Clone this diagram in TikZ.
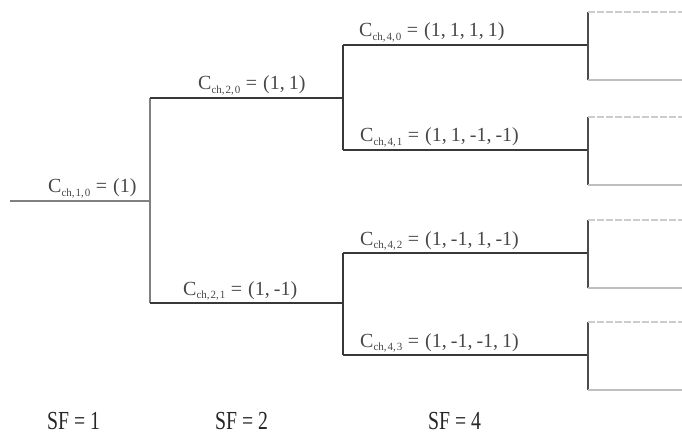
\documentclass[tikz,border=0pt]{standalone}
\usepackage{fontspec}
\setmainfont{Liberation Serif}
% spaced comma inside the code tuples
\newcommand{\tupsep}{,\hspace{4pt}}
% channelisation code label: C_{ch,SF,k} = tuple
\newcommand{\chcode}[3]{C\textsubscript{\fontsize{11}{11}\selectfont ch,\hspace{1pt}#1,\hspace{1pt}#2}\hspace{5pt}=\hspace{6pt}#3}
% tall, narrow lettering of the column captions
\newcommand{\sfcap}[1]{\scalebox{0.76}[1]{SF = #1}}
\begin{document}
\begin{tikzpicture}[x=1pt,y=-1pt,
  stem/.style={draw=black!50, line width=2.6pt},
  branch/.style={draw=black!78, line width=1.7pt},
  leafedge/.style={draw=black!70, line width=1.7pt},
  faint/.style={draw=black!25, line width=1.5pt},
  faintdash/.style={draw=black!20, line width=1.5pt, dash pattern=on 7pt off 2pt},
  code/.style={font=\fontsize{20}{20}\selectfont, anchor=south west, inner sep=1pt, text=black!72},
  sflabel/.style={font=\fontsize{26}{26}\selectfont, anchor=west, inner sep=0pt, text=black!85}]
\useasboundingbox (0,0) rectangle (682,436);

% junction points of the code tree
\coordinate (in)  at (10,201);
\coordinate (n1)  at (150,201);
\coordinate (u1)  at (150,98);
\coordinate (d1)  at (150,303);
\coordinate (n2u) at (343,98);
\coordinate (n2d) at (343,303);
\coordinate (u2a) at (343,45);
\coordinate (u2b) at (343,150);
\coordinate (d2a) at (343,253);
\coordinate (d2b) at (343,355);
\coordinate (l0)  at (588,45);
\coordinate (l1)  at (588,150);
\coordinate (l2)  at (588,253);
\coordinate (l3)  at (588,355);

% SF = 1 stem and split into SF = 2
\draw[stem] (in) -- (n1);
\draw[stem] (u1) -- (d1);

% SF = 2 branches
\draw[branch] (u1) -- (n2u);
\draw[branch] (d1) -- (n2d);
\draw[branch] (u2a) -- (u2b);
\draw[branch] (d2a) -- (d2b);

% SF = 4 branches
\draw[branch] (u2a) -- (l0);
\draw[branch] (u2b) -- (l1);
\draw[branch] (d2a) -- (l2);
\draw[branch] (d2b) -- (l3);

% continuation towards SF = 8 (y axis points down)
\foreach \l in {l0,l1,l2,l3}{
  \coordinate (\l t) at ([yshift=33pt]\l);
  \coordinate (\l b) at ([yshift=-35pt]\l);
  \draw[leafedge] (\l t) -- (\l b);
  \draw[faintdash] (\l t) -- (\l t -| 682,0);
  \draw[faint] (\l b) -- (\l b -| 682,0);
}

% code labels
\node[code] (c10) at (47,199)  {\chcode{1}{0}{(1)}};
\node[code] (c20) at (197,96)  {\chcode{2}{0}{(1\tupsep 1)}};
\node[code] (c21) at (182,301) {\chcode{2}{1}{(1\tupsep -1)}};
\node[code] (c40) at (358,43)  {\chcode{4}{0}{(1\tupsep 1\tupsep 1\tupsep 1)}};
\node[code] (c41) at (359,148) {\chcode{4}{1}{(1\tupsep 1\tupsep -1\tupsep -1)}};
\node[code] (c42) at (359,251) {\chcode{4}{2}{(1\tupsep -1\tupsep 1\tupsep -1)}};
\node[code] (c43) at (359,353) {\chcode{4}{3}{(1\tupsep -1\tupsep -1\tupsep 1)}};

% spreading factor of each column
\node[sflabel] (sf1) at (47,421)  {\sfcap{1}};
\node[sflabel] (sf2) at (215,421) {\sfcap{2}};
\node[sflabel] (sf4) at (428,421) {\sfcap{4}};
\end{tikzpicture}
\end{document}
